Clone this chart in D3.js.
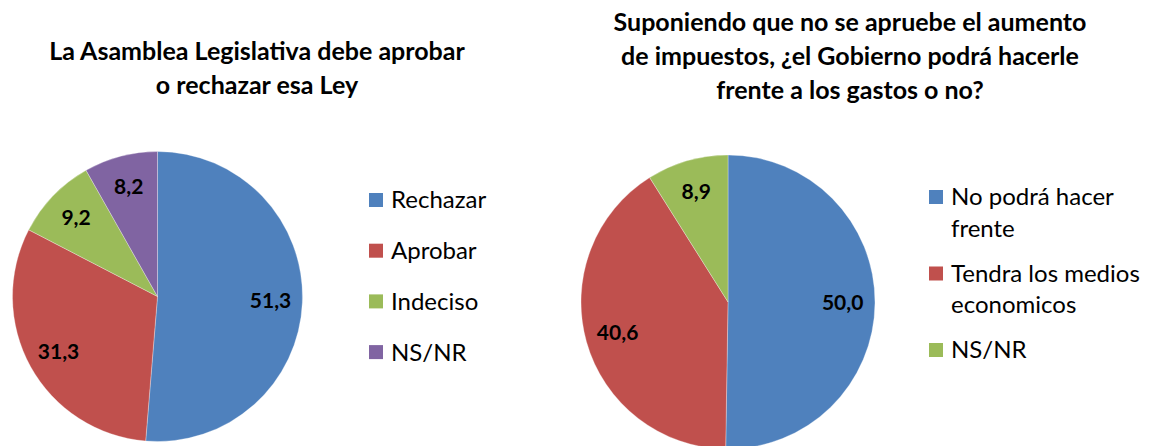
<!DOCTYPE html>
<html>
<head>
<meta charset="utf-8">
<script src="https://cdn.jsdelivr.net/npm/d3@7"></script>
<style>
  body { margin: 0; background: #fff; }
  text { font-family: Lato, "Open Sans", sans-serif; fill: #000; }
</style>
</head>
<body>
<script>
// chart data
var leftTitle = ["La Asamblea Legislativa debe aprobar", "o rechazar esa Ley"];
var leftCats = ["Rechazar", "Aprobar", "Indeciso", "NS/NR"];
var leftValues = [51.3, 31.3, 9.2, 8.2];

var rightTitle = ["Suponiendo que no se apruebe el aumento", "de impuestos, ¿el Gobierno podrá hacerle", "frente a los gastos o no?"];
var rightCats = ["No podrá hacer frente", "Tendra los medios economicos", "NS/NR"];
var rightValues = [50.0, 40.6, 8.9];

var colors = ["#4f81bd", "#c0504d", "#9bbb59", "#8064a2"];

var W = 1149, H = 446;
var svg = d3.select("body").append("svg")
  .attr("width", W)
  .attr("height", H);

var fmt = function(v) { return d3.format(".1f")(v).replace(".", ","); };

//draws one pie with its title and legend
function drawPie(opts) {
  var g = svg.append("g");

  g.selectAll("text.title")
    .data(opts.title)
    .enter()
    .append("text")
    .attr("class", "title")
    .attr("x", opts.titleX)
    .attr("y", function(d, i) { return opts.titleY + i * 34; })
    .attr("text-anchor", "middle")
    .style("font-weight", "bold")
    .style("font-size", "25px")
    .text(function(d) { return d; });

  var color = d3.scaleOrdinal().domain(opts.cats).range(colors);
  var pie = d3.pie().sort(null).value(function(d) { return d.v; });
  var arcs = pie(opts.cats.map(function(c, i) { return {c: c, v: opts.values[i]}; }));
  var arc = d3.arc().innerRadius(0).outerRadius(opts.r);
  var labelArc = d3.arc().innerRadius(opts.r * 0.78).outerRadius(opts.r * 0.78);

  var pg = g.append("g").attr("transform", "translate(" + opts.cx + "," + opts.cy + ")");
  pg.selectAll("path")
    .data(arcs)
    .enter()
    .append("path")
    .attr("d", arc)
    .attr("fill", function(d) { return color(d.data.c); })
    .attr("stroke", "#fff")
    .attr("stroke-opacity", 0.5)
    .attr("stroke-width", 0.6);

  pg.selectAll("text")
    .data(arcs)
    .enter()
    .append("text")
    .attr("x", function(d) { return labelArc.centroid(d)[0]; })
    .attr("y", function(d) { return labelArc.centroid(d)[1]; })
    .attr("dy", "0.35em")
    .attr("text-anchor", "middle")
    .style("font-weight", "bold")
    .style("font-size", "21px")
    .text(function(d) { return fmt(d.data.v); });

  // legend, wrapping long names
  var lg = g.append("g").attr("transform", "translate(" + opts.legX + "," + opts.legY + ")");
  var y = 0;
  opts.cats.forEach(function(c) {
    var t = lg.append("text")
      .attr("x", 22)
      .attr("y", y)
      .style("font-size", "24px");
    var words = c.split(" "), line = [], n = 0;
    var ts = t.append("tspan").attr("x", 22).attr("dy", "0.35em");
    words.forEach(function(w) {
      line.push(w);
      ts.text(line.join(" "));
      if (ts.node().getComputedTextLength() > opts.wrap && line.length > 1) {
        line.pop();
        ts.text(line.join(" "));
        line = [w];
        n++;
        ts = t.append("tspan").attr("x", 22).attr("dy", opts.lineH + "px").text(w);
      }
    });
    lg.append("rect")
      .attr("x", 0)
      .attr("y", y - 7)
      .attr("width", 14)
      .attr("height", 14)
      .attr("fill", color(c));
    y += opts.step + n * opts.lineH;
  });
}

drawPie({
  title: leftTitle, titleX: 257, titleY: 60,
  cats: leftCats, values: leftValues,
  cx: 157.5, cy: 296.5, r: 145,
  legX: 369, legY: 200, step: 50.7, lineH: 31.5, wrap: 200
});

drawPie({
  title: rightTitle, titleX: 850, titleY: 31,
  cats: rightCats, values: rightValues,
  cx: 728, cy: 302, r: 147,
  legX: 929, legY: 197, step: 45, lineH: 31.5, wrap: 200
});
</script>
</body>
</html>
